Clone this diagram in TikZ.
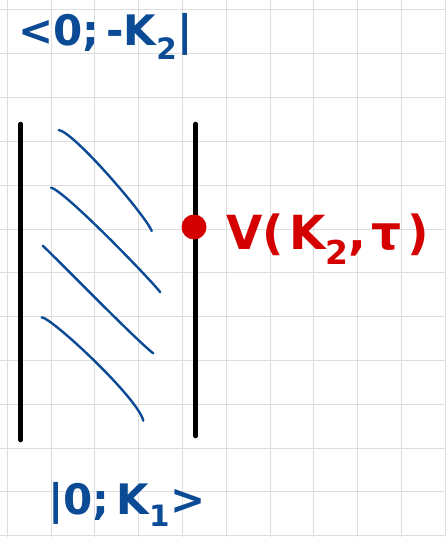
\documentclass[tikz,border=0pt]{standalone}
\usepackage{fontspec}
\setmainfont{DejaVu Sans}
\definecolor{inkblue}{HTML}{0B4A94}
\definecolor{inkred}{HTML}{D40000}
\definecolor{gridgray}{HTML}{DDDDDD}
\tikzset{
  bar/.style={line width=4.6pt, line cap=round, black},
  hatch/.style={line width=2.4pt, line cap=round, inkblue},
  label/.style={inner sep=0pt, anchor=base west, font=\bfseries\fontsize{42}{44}\selectfont},
  biglabel/.style={inner sep=0pt, anchor=base west, font=\bfseries\fontsize{47}{49}\selectfont},
  vertex/.style={circle, fill=inkred, inner sep=0pt, minimum size=25pt}
}
\begin{document}
\begin{tikzpicture}[x=1pt,y=-1pt]
\useasboundingbox (0,0) rectangle (445,537);
\fill[white] (0,0) rectangle (445,537);
% grid
\foreach \i in {0,...,10} {
  \draw[gridgray, line width=1pt] ({7.3+43.8*\i},0) -- ({7.3+43.8*\i},537);
}
\foreach \j in {0,...,12} {
  \draw[gridgray, line width=1pt] (0,{10+43.8*\j}) -- (445,{10+43.8*\j});
}
% vertical bars
\coordinate (Ltop) at (20.7,124);
\coordinate (Lbot) at (20.7,440);
\coordinate (Rtop) at (195.7,124);
\coordinate (Rbot) at (195.7,436);
\draw[bar] (Ltop) -- (Lbot);
\draw[bar] (Rtop) -- (Rbot);
% hatching
\coordinate (a1) at (58.7,130);   \coordinate (b1) at (151.7,231);
\coordinate (a2) at (51,187.7);   \coordinate (b2) at (160.3,292.3);
\coordinate (a3) at (42.7,245.7); \coordinate (b3) at (153.3,353.3);
\coordinate (a4) at (41.7,317.3); \coordinate (b4) at (143.3,420.7);
\draw[hatch] (a1) .. controls (74,132) and (146,216) .. (b1);
\draw[hatch] (a2) .. controls (64,190) and (152,281) .. (b2);
\draw[hatch] (a3) .. controls (52,254) and (140,344) .. (b3);
\draw[hatch] (a4) .. controls (52,318) and (138,398) .. (b4);
% vertex
\node[vertex] (v) at (194,227) {};
% labels
\node[label, text=inkblue] (bra) at (18,46) {<0;\,-K\textsubscript{2}|};
\node[label, text=inkblue] (ket) at (48,514) {|0;\,K\textsubscript{1}>};
\node[biglabel, text=inkred] (V) at (226,249) {V(\kern5ptK\textsubscript{2},\kern5ptτ\kern6pt)};
\end{tikzpicture}
\end{document}
